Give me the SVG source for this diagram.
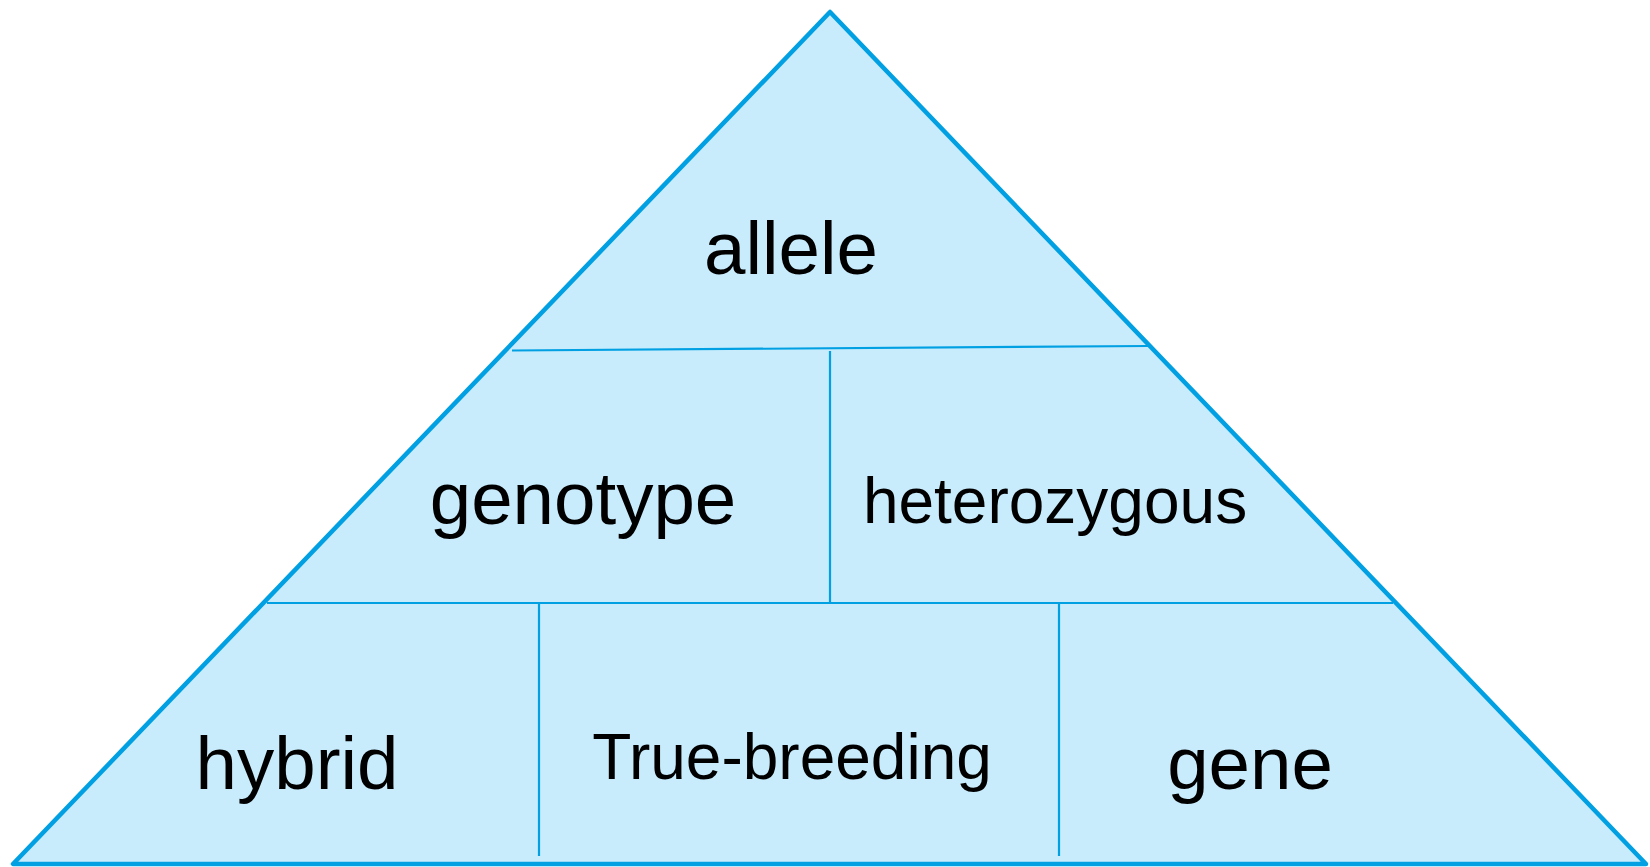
<svg xmlns="http://www.w3.org/2000/svg" width="1650" height="867" viewBox="0 0 1650 867">
<style>
.tri{fill:#C8ECFC;stroke:#00A0E3;stroke-width:4.5;stroke-linejoin:round}
.div{stroke:#00A0E3;stroke-width:2.2;fill:none}
.lbl{font-family:"Liberation Sans",Arial,sans-serif;fill:#000;text-anchor:middle}
.big{font-size:74.5px}
.mid{font-size:64px}
</style>
<rect width="1650" height="867" fill="#fff"/>
<g id="pyramid">
<polygon class="tri" points="830,12 13,864 1646,864"/>
</g>
<g id="connectors">
<line class="div" x1="512" y1="350.5" x2="1148" y2="346"/>
<line class="div" x1="267" y1="603" x2="1393" y2="603"/>
<line class="div" x1="830" y1="351" x2="830" y2="603"/>
<line class="div" x1="539" y1="603" x2="539" y2="856"/>
<line class="div" x1="1059" y1="603" x2="1059" y2="856"/>
</g>
<g id="node-allele"><text class="lbl big" x="791" y="274">allele</text></g>
<g id="node-genotype"><text class="lbl big" x="583" y="524">genotype</text></g>
<g id="node-heterozygous"><text class="lbl mid" x="1055" y="523">heterozygous</text></g>
<g id="node-hybrid"><text class="lbl big" x="297" y="789">hybrid</text></g>
<g id="node-true-breeding"><text class="lbl mid" x="792" y="779">True-breeding</text></g>
<g id="node-gene"><text class="lbl big" x="1250" y="789">gene</text></g>
</svg>
